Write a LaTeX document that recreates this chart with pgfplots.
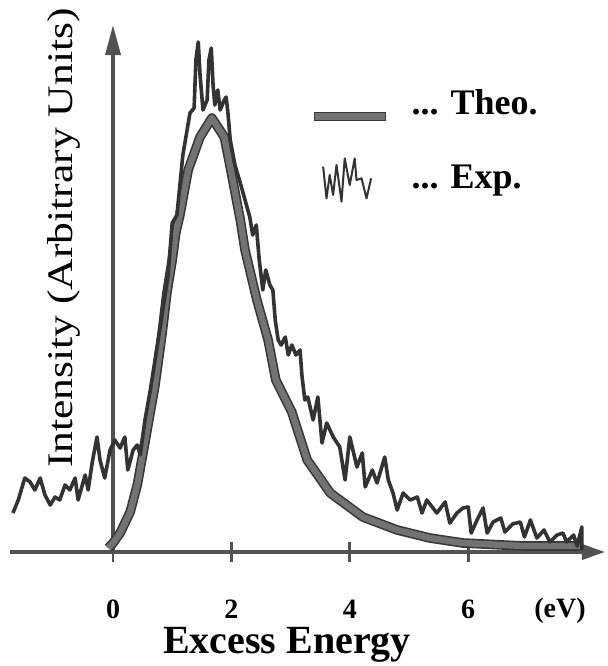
\documentclass[border=0pt]{standalone}
\usepackage{fontspec}
\setmainfont{Liberation Serif}
\usepackage{pgfplots}
\pgfplotsset{compat=1.18}
\usepackage{pgfplotstable}
\usetikzlibrary{arrows.meta}

\definecolor{theofill}{gray}{0.45}
\definecolor{theoedge}{gray}{0.22}
\definecolor{expline}{gray}{0.2}
\definecolor{axisgray}{gray}{0.32}

% theory curve, excess energy (eV) vs intensity (arb.)
\pgfplotstableread{
x y
-0.08 4
0.00 9
0.12 19
0.29 40
0.41 67
0.57 120
0.71 167
0.83 219
0.91 259
1.00 292
1.06 319
1.13 337
1.27 382
1.47 415
1.67 434
1.88 415
1.99 382
2.15 332
2.23 302
2.43 252
2.62 212
2.75 172
3.02 140
3.28 92
3.67 59
4.22 35
4.80 22
5.35 14
5.91 9
6.93 6
7.89 6
}\theo

% experiment
\pgfplotstableread{
x y
-1.69 39
-1.60 52
-1.49 74
-1.40 70
-1.32 62
-1.23 74
-1.15 57
-1.06 47
-0.98 55
-0.90 52
-0.81 67
-0.73 62
-0.64 74
-0.59 52
-0.47 77
-0.42 62
-0.35 90
-0.27 115
-0.22 92
-0.14 74
-0.05 102
0.03 112
0.12 104
0.20 115
0.25 82
0.34 102
0.41 107
0.46 97
0.54 132
0.63 162
0.79 222
0.93 277
1.00 329
1.08 337
1.18 397
1.30 439
1.37 444
1.40 492
1.44 510
1.47 477
1.52 442
1.59 452
1.62 492
1.66 504
1.69 467
1.72 447
1.77 462
1.81 442
1.88 452
1.91 455
1.94 440
1.98 412
2.06 387
2.15 369
2.23 352
2.31 335
2.36 317
2.42 327
2.47 292
2.53 262
2.58 282
2.65 267
2.70 262
2.74 232
2.79 212
2.84 207
2.91 215
2.96 197
3.02 207
3.09 197
3.16 202
3.19 177
3.24 152
3.29 155
3.38 132
3.46 155
3.53 109
3.61 129
3.72 115
3.83 105
3.92 72
4.00 115
4.12 85
4.21 99
4.26 65
4.38 82
4.46 69
4.59 95
4.65 72
4.73 59
4.80 42
4.90 59
5.02 52
5.14 55
5.22 39
5.30 52
5.47 39
5.61 50
5.69 29
5.81 39
5.91 44
6.00 45
6.05 19
6.15 32
6.25 44
6.32 19
6.42 30
6.55 34
6.62 20
6.75 28
6.88 30
6.95 15
7.05 32
7.16 14
7.28 22
7.38 10
7.50 17
7.60 19
7.66 10
7.78 17
7.84 6
7.92 25
7.92 2
}\expdata

\begin{document}
\begin{tikzpicture}
\begin{axis}[
  x=29.6pt, y=0.5pt,
  xmin=-1.74, xmax=8.31,
  ymin=0, ymax=527,
  axis lines=middle,
  enlargelimits=false,
  clip=false,
  hide obscured x ticks=false,
  x axis line style={draw=axisgray, line width=1.8pt, -{Triangle[length=11.5pt,width=7.5pt]}},
  y axis line style={draw=axisgray, line width=1.8pt, -{Triangle[length=15pt,width=7.5pt]}},
  xtick={0,2,4,6},
  xticklabels={0,2,4,6},
  ytick=\empty,
  major tick length=10pt,
  tick align=center,
  xtick style={draw=axisgray, line width=1.4pt},
  xticklabel style={font=\bfseries\fontsize{14}{16}\selectfont, anchor=base, yshift=-28pt},
  legend style={at={(axis cs:3.38,467)}, anchor=north west, draw=none, fill=none,
    font=\bfseries\fontsize{18}{21}\selectfont, row sep=18pt, column sep=11pt, inner sep=0pt},
  legend cell align=left,
]
\addplot[forget plot, theoedge, line width=4.8pt, line join=round] table {\theo};
\addplot[forget plot, theofill, line width=3.2pt, line join=round] table {\theo};
\addplot[forget plot, expline, line width=1.8pt, line join=round] table {\expdata};

\addlegendimage{legend image code/.code={
  \filldraw[fill=theofill, draw=theoedge, line width=0.6pt] (0pt,-8.5pt) rectangle (35.5pt,-4.5pt);}}
\addlegendentry{... Theo.}
\addlegendimage{legend image code/.code={
  \draw[expline, line width=1pt, line join=round] (4.5pt,5.7pt) -- (6.2pt,-10.2pt) -- (7.8pt,1.5pt) -- (9.5pt,-8.5pt) -- (11.2pt,6.5pt) -- (13.7pt,-11.8pt) -- (15.3pt,9.8pt) -- (17.8pt,-3.5pt) -- (20.3pt,9.8pt) -- (21.2pt,-1pt) -- (23.7pt,-0.2pt) -- (26.2pt,-10.2pt) -- (28.5pt,-0.2pt);}}
\addlegendentry{... Exp.}

\node[anchor=base, font=\bfseries\fontsize{14}{16}\selectfont] at (axis cs:7.55,-65) {(eV)};
\node[anchor=base, font=\bfseries\fontsize{20}{24}\selectfont] at (axis cs:2.94,-101) {Excess Energy};
\node[anchor=base, rotate=90, font=\fontsize{18}{22}\selectfont] at (axis cs:-0.68,314) {\scalebox{1.21}[1]{Intensity (Arbitrary Units)}};

\coordinate (bbsw) at (axis cs:-1.909,-114);
\coordinate (bbne) at (axis cs:8.361,552);
\end{axis}
\pgfresetboundingbox
\path (bbsw) rectangle (bbne);
\end{tikzpicture}
\end{document}
